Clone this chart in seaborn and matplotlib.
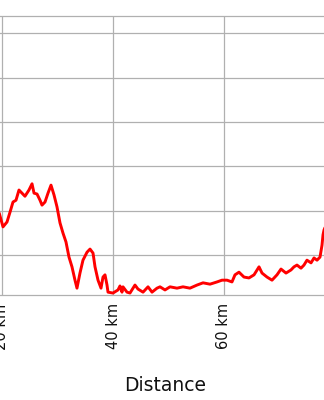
import matplotlib
matplotlib.use("Agg")
import matplotlib.pyplot as plt
import seaborn as sns
import pandas as pd

distance_km = [19.5, 20.18, 20.90, 21.44, 21.98, 22.52, 23.06, 23.60, 24.14, 24.86,
               25.41, 25.77, 26.31, 26.85, 27.21, 27.75, 28.29, 28.83, 29.37, 29.91,
               30.45, 30.99, 31.53, 32.07, 32.61, 33.15, 33.51, 34.05, 34.59, 35.32,
               35.86, 36.40, 36.76, 37.30, 37.84, 38.20, 38.56, 38.92, 39.10, 40.00,
               40.90, 41.26, 41.62, 41.80, 42.52, 43.06, 43.96, 44.50, 45.41, 46.31,
               47.03, 47.93, 48.47, 49.37, 50.27, 51.53, 52.61, 53.87, 55.14, 56.22,
               57.48, 58.74, 59.64, 60.54, 61.44, 61.98, 62.70, 63.60, 64.50, 65.41,
               66.31, 66.85, 67.75, 68.65, 69.55, 70.27, 71.17, 72.07, 72.61, 73.15,
               73.87, 74.41, 74.95, 75.68, 76.22, 76.76, 77.30, 77.66, 77.84, 78.02,
               78.74]
elevation_m = [195, 164, 175, 197, 220, 224, 247, 240, 233, 247,
               261, 240, 238, 224, 213, 220, 240, 258, 236, 209,
               173, 150, 130, 96, 74, 44, 26, 60, 89, 107,
               114, 105, 74, 44, 26, 51, 56, 33, 17, 15,
               22, 31, 17, 29, 17, 15, 33, 24, 17, 29,
               17, 26, 29, 22, 29, 26, 29, 26, 33, 38,
               35, 40, 44, 44, 40, 56, 62, 51, 49, 56,
               74, 60, 51, 44, 56, 69, 60, 67, 74, 78,
               71, 78, 89, 83, 94, 89, 96, 123, 146, 157,
               179]

x_ticks = [20, 40, 60]
x_tick_labels = ["20 km", "40 km", "60 km"]
y_ticks = [100, 200, 300, 400, 500, 600]

df = pd.DataFrame({"Distance": distance_km, "Elevation": elevation_m})

sns.set_style("white")
plt.rcParams['font.family'] = ['DejaVu Sans']

W, H = 324, 400
fig = plt.figure(figsize=(W / 100, H / 100), dpi=100)
left_px, right_px = -22, 353
top_px, bot_px = 15.7, 295
ax = fig.add_axes([left_px / W, (H - bot_px) / H,
                   (right_px - left_px) / W, (bot_px - top_px) / H])

sns.lineplot(data=df, x="Distance", y="Elevation", ax=ax, color="#ff0000",
             linewidth=2.1, zorder=3)

km_per_px = 20 / 111
ax.set_xlim(20 + (left_px - 2) * km_per_px, 20 + (right_px - 2) * km_per_px)
ax.set_ylim(100 - (bot_px - 255.3) * 2.252, 100 + (255.3 - top_px) * 2.252)

ax.set_xticks(x_ticks)
ax.set_xticklabels(x_tick_labels, rotation=90, fontsize=10.5, color="#111111")
ax.set_yticks(y_ticks)
ax.set_yticklabels([])
ax.tick_params(axis="both", length=0, pad=6)
ax.grid(True, color="#b0b0b0", linewidth=0.9)
for s in ax.spines.values():
    s.set_color("#b0b0b0")
    s.set_linewidth(0.9)

ax.set_xlabel("Distance", fontsize=13.5, color="#111111", labelpad=19)
ax.set_ylabel("")

fig.savefig("out.png", dpi=100)
